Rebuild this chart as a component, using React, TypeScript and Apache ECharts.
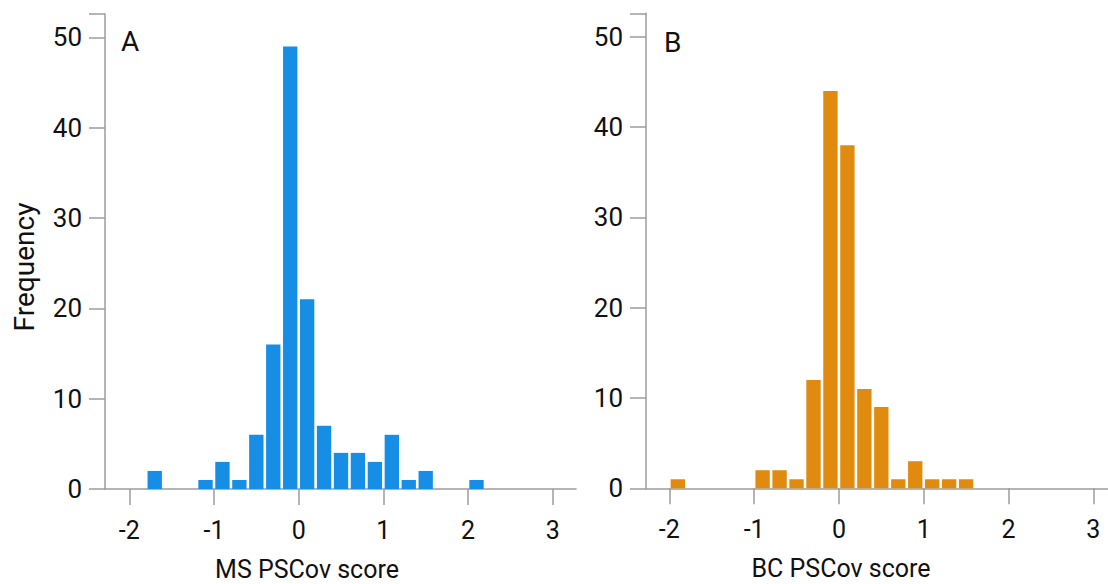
import React, { useEffect, useRef } from "react";
import * as echarts from "echarts";

// Histogram bin centres (bin width 0.2) and frequencies
const BIN_WIDTH = 0.2;
const msBinCenters = [-1.7, -1.1, -0.9, -0.7, -0.5, -0.3, -0.1, 0.1, 0.3, 0.5, 0.7, 0.9, 1.1, 1.3, 1.5, 2.1];
const msCounts = [2, 1, 3, 1, 6, 16, 49, 21, 7, 4, 4, 3, 6, 1, 2, 1];
const bcBinCenters = [-1.9, -0.9, -0.7, -0.5, -0.3, -0.1, 0.1, 0.3, 0.5, 0.7, 0.9, 1.1, 1.3, 1.5];
const bcCounts = [1, 2, 2, 1, 12, 44, 38, 11, 9, 1, 3, 1, 1, 1];

const xTickValues = [-2, -1, 0, 1, 2, 3];
const yTickLabels = [0, 10, 20, 30, 40, 50];

const panelLetters = ["A", "B"];
const xTitles = ["MS PSCov score", "BC PSCov score"];
const yTitle = "Frequency";

const BLUE = "#168ee6";
const ORANGE = "#e08b0f";
const AXIS_GRAY = "#9c9c9c";
const TEXT = "#111111";
const FONT = "Roboto";
const WEIGHT = 400;

export default function App() {
  const ref = useRef<HTMLDivElement>(null);

  useEffect(() => {
    if (!ref.current) return;
    const chart = echarts.init(ref.current, undefined, { renderer: "svg" });

    const renderBar = (color: string) => (params: any, api: any) => {
      const x = api.value(0);
      const y = api.value(1);
      const p0 = api.coord([x - BIN_WIDTH / 2, y]);
      const p1 = api.coord([x + BIN_WIDTH / 2, 0]);
      const inset = 1.3;
      return {
        type: "rect",
        shape: {
          x: p0[0] + inset,
          y: p0[1],
          width: p1[0] - p0[0] - 2 * inset,
          height: p1[1] - p0[1],
        },
        style: { fill: color },
      };
    };

    const makeX = (gridIndex: number, min: number, max: number) => ({
      type: "value",
      gridIndex,
      min,
      max,
      axisLine: { show: true, onZero: false, lineStyle: { color: AXIS_GRAY, width: 1.5 } },
      axisTick: {
        show: true,
        customValues: xTickValues,
        length: 16,
        lineStyle: { color: AXIS_GRAY, width: 1.5 },
      },
      axisLabel: {
        customValues: xTickValues,
        margin: 29,
        color: TEXT,
        fontSize: 25,
        fontFamily: FONT,
        fontWeight: WEIGHT,
      },
      splitLine: { show: false },
    });

    const makeY = (gridIndex: number) => ({
      type: "value",
      gridIndex,
      min: 0,
      max: 52.6,
      interval: 10,
      axisLine: { show: true, onZero: false, lineStyle: { color: AXIS_GRAY, width: 1.5 } },
      axisTick: { show: true, length: 16, lineStyle: { color: AXIS_GRAY, width: 1.5 } },
      axisLabel: {
        margin: 23,
        color: TEXT,
        fontSize: 26,
        fontFamily: FONT,
        fontWeight: WEIGHT,
        formatter: (v: number) => (yTickLabels.includes(v) ? String(v) : ""),
      },
      splitLine: { show: false },
    });

    const textStyle = (size: number) => ({
      fill: TEXT,
      fontSize: size,
      fontFamily: FONT,
      fontWeight: WEIGHT,
    });

    chart.setOption({
      animation: false,
      backgroundColor: "#ffffff",
      grid: [
        { left: 105, top: 14, width: 471, height: 475, containLabel: false },
        { left: 646, top: 13.3, right: 0, height: 475, containLabel: false },
      ],
      xAxis: [makeX(0, -2.287, 3.275), makeX(1, -2.275, 3.173)],
      yAxis: [makeY(0), makeY(1)],
      series: [
        {
          type: "custom",
          xAxisIndex: 0,
          yAxisIndex: 0,
          renderItem: renderBar(BLUE),
          data: msBinCenters.map((c, i) => [c, msCounts[i]]),
        },
        {
          type: "custom",
          xAxisIndex: 1,
          yAxisIndex: 1,
          renderItem: renderBar(ORANGE),
          data: bcBinCenters.map((c, i) => [c, bcCounts[i]]),
        },
      ],
      graphic: [
        {
          type: "text",
          left: 121,
          top: 27,
          style: { text: panelLetters[0], ...textStyle(28) },
        },
        {
          type: "text",
          left: 664,
          top: 28,
          style: { text: panelLetters[1], ...textStyle(28) },
        },
        {
          type: "text",
          x: 307,
          y: 569,
          style: { text: xTitles[0], ...textStyle(25), align: "center", verticalAlign: "middle" },
        },
        {
          type: "text",
          x: 841,
          y: 568,
          style: { text: xTitles[1], ...textStyle(25), align: "center", verticalAlign: "middle" },
        },
        {
          type: "text",
          x: 24,
          y: 267,
          rotation: Math.PI / 2,
          style: { text: yTitle, ...textStyle(28), align: "center", verticalAlign: "middle" },
        },
      ],
    });

    return () => chart.dispose();
  }, []);

  return (
    <div
      ref={ref}
      style={{ position: "fixed", left: 0, top: 0, width: 1108, height: 584, background: "#fff" }}
    />
  );
}
